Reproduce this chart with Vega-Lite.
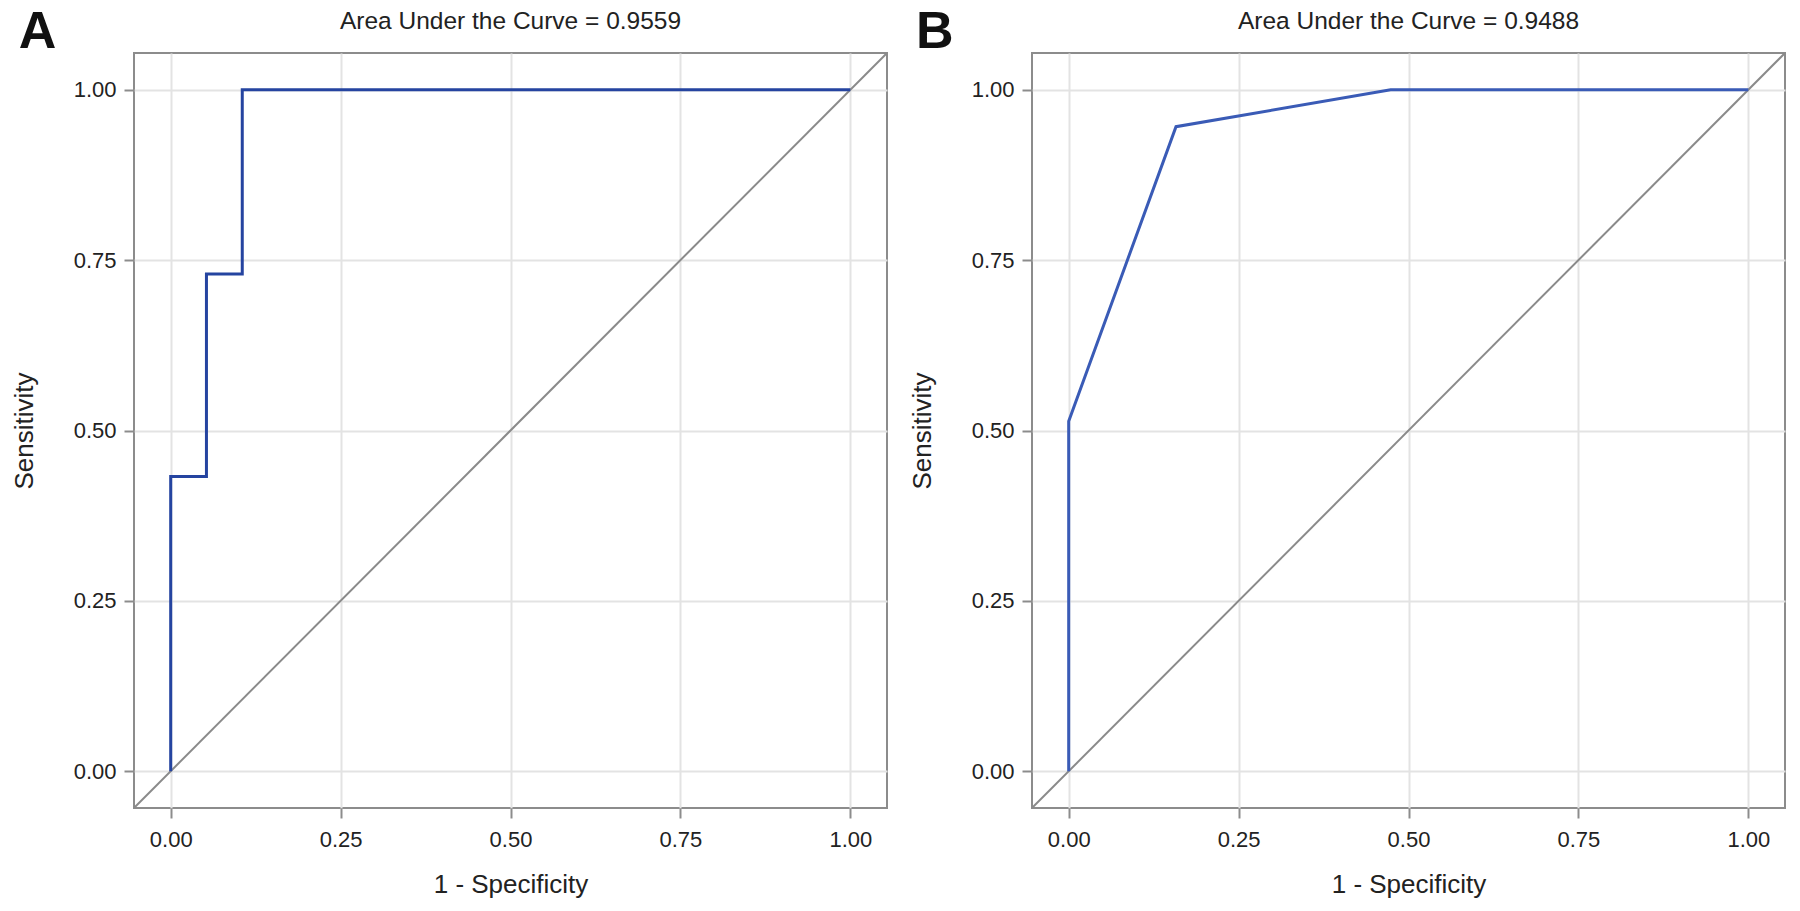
{
  "$schema": "https://vega.github.io/schema/vega-lite/v6.json",
  "padding": {"left": 10, "top": 4, "right": 5, "bottom": 5},
  "spacing": 20,
  "background": "white",
  "config": {
    "view": {"stroke": "#8c8c8c", "strokeWidth": 2},
    "axis": {
      "domain": false,
      "gridColor": "#e3e3e3",
      "gridWidth": 2,
      "tickColor": "#8c8c8c",
      "tickWidth": 2,
      "tickSize": 10,
      "labelFont": "Liberation Sans",
      "labelFontSize": 22,
      "labelColor": "#222222",
      "titleFont": "Liberation Sans",
      "titleFontSize": 26,
      "titleFontWeight": "normal",
      "titleColor": "#222222"
    },
    "axisX": {"labelPadding": 11, "titlePadding": 21},
    "axisY": {"labelPadding": 8, "titlePadding": 36},
    "title": {"font": "Liberation Sans", "fontSize": 24.5, "fontWeight": "normal", "color": "#222222", "offset": -29}
  },
  "hconcat": [
    {
      "width": 753,
      "height": 755,
      "title": {"text": "Area Under the Curve = 0.9559"},
      "layer": [
        {
          "data": {"values": [{"x": -0.054, "y": -0.054}, {"x": 1.054, "y": 1.054}]},
          "mark": {"type": "line", "color": "#8a8a8a", "strokeWidth": 2, "clip": true},
          "encoding": {
            "x": {"field": "x", "type": "quantitative", "title": "1 - Specificity",
              "scale": {"domain": [-0.054, 1.054], "nice": false, "zero": false},
              "axis": {"values": [0, 0.25, 0.5, 0.75, 1], "format": ".2f"}},
            "y": {"field": "y", "type": "quantitative", "title": "Sensitivity",
              "scale": {"domain": [-0.054, 1.054], "nice": false, "zero": false},
              "axis": {"values": [0, 0.25, 0.5, 0.75, 1], "format": ".2f"}}
          }
        },
        {
          "data": {"values": [
            {"i": 1, "x": 0, "y": 0},
            {"i": 2, "x": 0, "y": 0.4324},
            {"i": 3, "x": 0.0526, "y": 0.4324},
            {"i": 4, "x": 0.0526, "y": 0.7297},
            {"i": 5, "x": 0.1053, "y": 0.7297},
            {"i": 6, "x": 0.1053, "y": 1},
            {"i": 7, "x": 1, "y": 1}
          ]},
          "mark": {"type": "line", "color": "#2544a0", "strokeWidth": 3},
          "encoding": {
            "x": {"field": "x", "type": "quantitative", "title": "1 - Specificity"},
            "y": {"field": "y", "type": "quantitative", "title": "Sensitivity"},
            "order": {"field": "i", "type": "quantitative"}
          }
        },
        {
          "data": {"values": [{"label": "A"}]},
          "mark": {"type": "text", "font": "Liberation Sans", "fontSize": 52, "fontWeight": "bold", "baseline": "alphabetic", "align": "center", "color": "#111111"},
          "encoding": {
            "text": {"field": "label", "type": "nominal"},
            "x": {"datum": -0.196},
            "y": {"datum": 1.062}
          }
        }
      ]
    },
    {
      "width": 753,
      "height": 755,
      "title": {"text": "Area Under the Curve = 0.9488"},
      "layer": [
        {
          "data": {"values": [{"x": -0.054, "y": -0.054}, {"x": 1.054, "y": 1.054}]},
          "mark": {"type": "line", "color": "#8a8a8a", "strokeWidth": 2, "clip": true},
          "encoding": {
            "x": {"field": "x", "type": "quantitative", "title": "1 - Specificity",
              "scale": {"domain": [-0.054, 1.054], "nice": false, "zero": false},
              "axis": {"values": [0, 0.25, 0.5, 0.75, 1], "format": ".2f"}},
            "y": {"field": "y", "type": "quantitative", "title": "Sensitivity",
              "scale": {"domain": [-0.054, 1.054], "nice": false, "zero": false},
              "axis": {"values": [0, 0.25, 0.5, 0.75, 1], "format": ".2f"}}
          }
        },
        {
          "data": {"values": [
            {"i": 1, "x": 0, "y": 0},
            {"i": 2, "x": 0, "y": 0.5135},
            {"i": 3, "x": 0.1579, "y": 0.9459},
            {"i": 4, "x": 0.4737, "y": 1},
            {"i": 5, "x": 1, "y": 1}
          ]},
          "mark": {"type": "line", "color": "#3a5bb6", "strokeWidth": 3},
          "encoding": {
            "x": {"field": "x", "type": "quantitative", "title": "1 - Specificity"},
            "y": {"field": "y", "type": "quantitative", "title": "Sensitivity"},
            "order": {"field": "i", "type": "quantitative"}
          }
        },
        {
          "data": {"values": [{"label": "B"}]},
          "mark": {"type": "text", "font": "Liberation Sans", "fontSize": 52, "fontWeight": "bold", "baseline": "alphabetic", "align": "center", "color": "#111111"},
          "encoding": {
            "text": {"field": "label", "type": "nominal"},
            "x": {"datum": -0.197},
            "y": {"datum": 1.062}
          }
        }
      ]
    }
  ]
}
